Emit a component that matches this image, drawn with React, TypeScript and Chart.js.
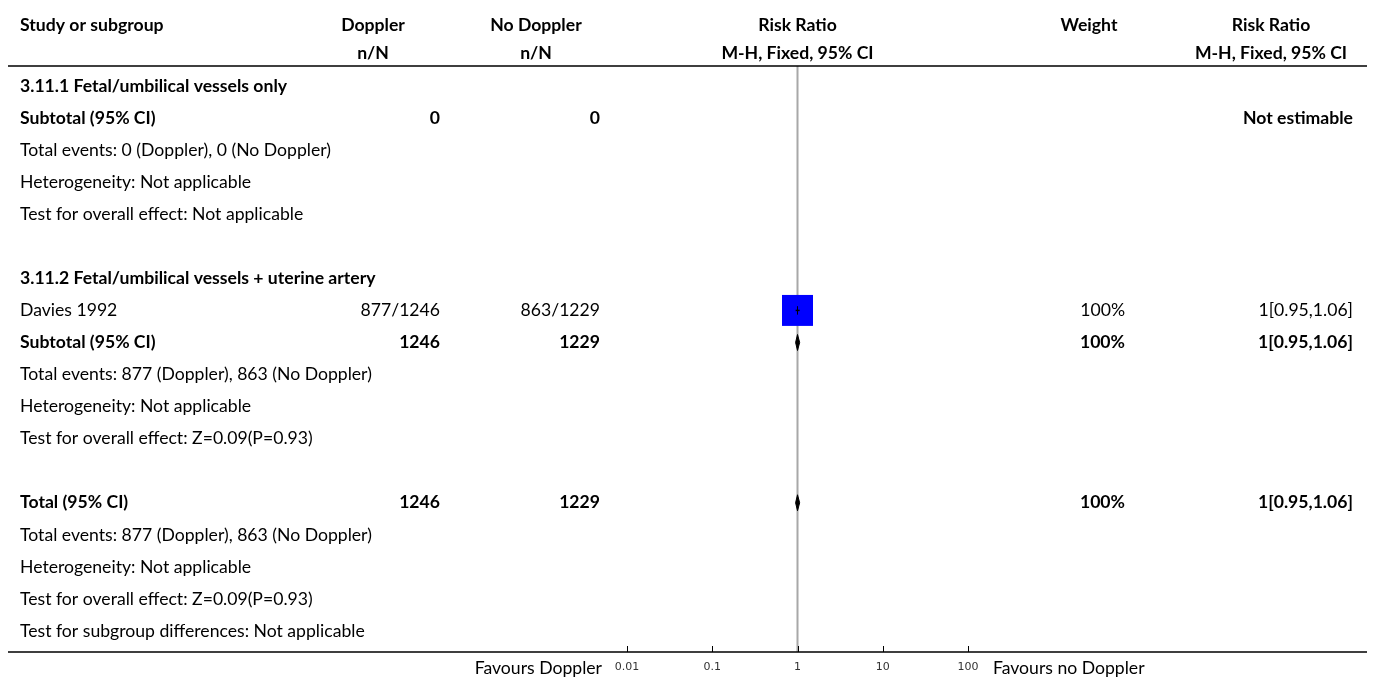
import { useEffect, useRef } from "react";
import { Chart, registerables } from "chart.js";

Chart.register(...registerables);

// ---------- table content ----------
const headerRow1 = ["Study or subgroup", "Doppler", "No Doppler", "Risk Ratio", "Weight", "Risk Ratio"];
const headerRow2 = ["", "n/N", "n/N", "M-H, Fixed, 95% CI", "", "M-H, Fixed, 95% CI"];

const rowLabels = [
  "3.11.1 Fetal/umbilical vessels only",
  "Subtotal (95% CI)",
  "Total events: 0 (Doppler), 0 (No Doppler)",
  "Heterogeneity: Not applicable",
  "Test for overall effect: Not applicable",
  "",
  "3.11.2 Fetal/umbilical vessels + uterine artery",
  "Davies 1992",
  "Subtotal (95% CI)",
  "Total events: 877 (Doppler), 863 (No Doppler)",
  "Heterogeneity: Not applicable",
  "Test for overall effect: Z=0.09(P=0.93)",
  "",
  "Total (95% CI)",
  "Total events: 877 (Doppler), 863 (No Doppler)",
  "Heterogeneity: Not applicable",
  "Test for overall effect: Z=0.09(P=0.93)",
  "Test for subgroup differences: Not applicable",
];
const rowBold = [true, true, false, false, false, false, true, false, true, false, false, false, false, true, false, false, false, false];
const dopplerCells = ["", "0", "", "", "", "", "", "877/1246", "1246", "", "", "", "", "1246", "", "", "", ""];
const noDopplerCells = ["", "0", "", "", "", "", "", "863/1229", "1229", "", "", "", "", "1229", "", "", "", ""];
const weightCells = ["", "", "", "", "", "", "", "100%", "100%", "", "", "", "", "100%", "", "", "", ""];
const riskRatioCells = ["", "Not estimable", "", "", "", "", "", "1[0.95,1.06]", "1[0.95,1.06]", "", "", "", "", "1[0.95,1.06]", "", "", "", ""];

// ---------- forest plot values ----------
const studyRows = [7];
const studyRR = [1];
const studyLower = [0.95];
const studyUpper = [1.06];
const studyWeight = [100];

const pooledRows = [8, 13];
const pooledRR = [1, 1];
const pooledLower = [0.95, 0.95];
const pooledUpper = [1.06, 1.06];

const tickValues = [0.01, 0.1, 1, 10, 100];
const tickLabels = ["0.01", "0.1", "1", "10", "100"];
const favoursLeft = "Favours Doppler";
const favoursRight = "Favours no Doppler";

// ---------- layout ----------
const W = 1375;
const H = 682;
const Y_MIN = -0.624;
const Y_MAX = 17.654;
const FONT = "Lato, 'Noto Sans', sans-serif";

export default function App() {
  const ref = useRef<HTMLCanvasElement | null>(null);

  useEffect(() => {
    const canvas = ref.current;
    if (!canvas) return;

    const datasets: any[] = [];
    studyRows.forEach((r, i) => {
      datasets.push({
        data: [{ x: studyLower[i], y: r }, { x: studyUpper[i], y: r }],
        showLine: true,
        borderColor: "#000",
        borderWidth: 1.5,
        pointRadius: 0,
      });
      datasets.push({
        data: [{ x: studyRR[i], y: r - 0.12 }, { x: studyRR[i], y: r + 0.12 }],
        showLine: true,
        borderColor: "#000",
        borderWidth: 1,
        pointRadius: 0,
      });
    });
    datasets.push({
      data: studyRows.map((r, i) => ({ x: studyRR[i], y: r })),
      pointStyle: "rect",
      pointRadius: studyWeight.map((w) => Math.sqrt(w / 100) * 21.9),
      backgroundColor: "#0000ff",
      borderWidth: 0,
    });
    pooledRows.forEach((r, i) => {
      datasets.push({
        data: [
          { x: pooledLower[i], y: r },
          { x: pooledRR[i], y: r - 0.25 },
          { x: pooledUpper[i], y: r },
          { x: pooledRR[i], y: r + 0.25 },
          { x: pooledLower[i], y: r },
        ],
        showLine: true,
        borderColor: "#000",
        backgroundColor: "#000",
        borderWidth: 1,
        pointRadius: 0,
        fill: "shape",
      });
    });
    datasets.push({
      data: [{ x: 1, y: Y_MIN }, { x: 1, y: Y_MAX }],
      showLine: true,
      borderColor: "#a8a8a8",
      borderWidth: 2,
      pointRadius: 0,
    });

    const textPlugin = {
      id: "forestText",
      afterDraw(chart: any) {
        const ctx = chart.ctx as CanvasRenderingContext2D;
        const xs = chart.scales.x;
        const ys = chart.scales.y;
        const area = chart.chartArea;
        ctx.save();
        ctx.font = `15px ${FONT}`;
        const mw = ctx.measureText(rowLabels[9]).width;
        const fs = (15 * 352) / mw;
        const normal = `${fs.toFixed(2)}px ${FONT}`;
        const bold = `bold ${fs.toFixed(2)}px ${FONT}`;
        ctx.fillStyle = "#000";
        ctx.textBaseline = "middle";

        const cx1 = xs.getPixelForValue(1);
        const headerCenters = [0, 373, 536, cx1, 1089, 1271];
        const h1y = ys.getPixelForValue(-1.9);
        const h2y = ys.getPixelForValue(-1.03);
        ctx.font = bold;
        headerRow1.forEach((t, i) => {
          if (!t) return;
          if (i === 0) {
            ctx.textAlign = "left";
            ctx.fillText(t, 20, h1y);
          } else {
            ctx.textAlign = "center";
            ctx.fillText(t, headerCenters[i], h1y);
          }
        });
        headerRow2.forEach((t, i) => {
          if (!t) return;
          ctx.textAlign = "center";
          ctx.fillText(t, headerCenters[i], h2y);
        });

        rowLabels.forEach((label, i) => {
          const y = ys.getPixelForValue(i);
          ctx.font = rowBold[i] ? bold : normal;
          ctx.textAlign = "left";
          if (label) ctx.fillText(label, 20, y);
          ctx.textAlign = "right";
          if (dopplerCells[i]) ctx.fillText(dopplerCells[i], 440, y);
          if (noDopplerCells[i]) ctx.fillText(noDopplerCells[i], 600, y);
          if (weightCells[i]) ctx.fillText(weightCells[i], 1125, y);
          if (riskRatioCells[i]) ctx.fillText(riskRatioCells[i], 1353, y);
        });

        ctx.strokeStyle = "#000";
        ctx.lineWidth = 1.5;
        ctx.beginPath();
        ctx.moveTo(8, area.top);
        ctx.lineTo(1367, area.top);
        ctx.moveTo(8, area.bottom);
        ctx.lineTo(1367, area.bottom);
        ctx.stroke();

        ctx.lineWidth = 1;
        ctx.beginPath();
        tickValues.forEach((v) => {
          const px = Math.round(xs.getPixelForValue(v)) + 0.5;
          ctx.moveTo(px, area.bottom);
          ctx.lineTo(px, area.bottom - 6);
        });
        ctx.stroke();

        ctx.font = normal;
        ctx.textBaseline = "middle";
        ctx.textAlign = "right";
        ctx.fillText(favoursLeft, 602, 668);
        ctx.textAlign = "left";
        ctx.fillText(favoursRight, 993, 668);
        ctx.restore();
      },
    };

    const chart = new Chart(canvas, {
      type: "scatter",
      data: { datasets },
      options: {
        animation: false,
        responsive: false,
        maintainAspectRatio: false,
        layout: { padding: { left: 627, right: W - 968, top: 66, bottom: 0 } },
        plugins: { legend: { display: false }, tooltip: { enabled: false } },
        scales: {
          x: {
            type: "logarithmic",
            min: 0.01,
            max: 100,
            grid: { display: false },
            border: { display: false },
            afterBuildTicks: (scale: any) => {
              scale.ticks = tickValues.map((v) => ({ value: v }));
            },
            afterFit: (scale: any) => {
              scale.height = 30;
            },
            ticks: {
              autoSkip: false,
              maxRotation: 0,
              padding: 1,
              color: "#333",
              font: { family: "DejaVu Sans", size: 11 },
              callback: (_v: any, i: number) => tickLabels[i],
            },
          },
          y: {
            type: "linear",
            display: false,
            reverse: true,
            min: Y_MIN,
            max: Y_MAX,
          },
        },
      },
      plugins: [textPlugin],
    } as any);

    return () => chart.destroy();
  }, []);

  return (
    <div style={{ position: "fixed", left: 0, top: 0, width: W, height: H }}>
      <canvas ref={ref} width={W} height={H} style={{ display: "block" }} />
    </div>
  );
}
